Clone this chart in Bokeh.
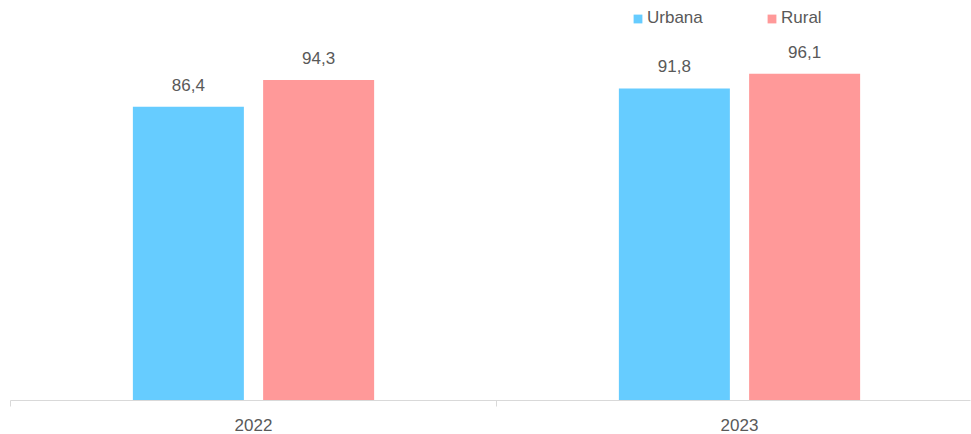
from bokeh.plotting import figure
from bokeh.models import ColumnDataSource, Range1d, FixedTicker, Legend, LegendItem
from bokeh.transform import dodge
from bokeh.core.properties import value
from bokeh.embed import file_html
from bokeh.resources import INLINE

years = ["2022", "2023"]
urbana = [86.4, 91.8]
rural = [94.3, 96.1]
urbana_labels = ["86,4", "91,8"]
rural_labels = ["94,3", "96,1"]

FONT = "Liberation Sans"
TXT = "#595959"
C_URB = "#66CCFF"
C_RUR = "#FF9999"

xpos = [i + 0.5 for i in range(len(years))]
src = ColumnDataSource(dict(x=xpos, urbana=urbana, rural=rural,
                            ul=urbana_labels, rl=rural_labels))

p = figure(width=971, height=434, output_backend="svg", toolbar_location=None,
           x_range=Range1d(0, 960 / 486), y_range=Range1d(0, 400 / 3.40),
           min_border_left=10, min_border_right=1, min_border_top=0, min_border_bottom=34)
p.outline_line_color = None
p.xgrid.visible = False
p.ygrid.visible = False
p.yaxis.visible = False
p.background_fill_color = "white"

off = 0.134
w = 0.2284
r1 = p.vbar(x=dodge("x", -off), top="urbana", width=w, source=src, color=C_URB, line_color=None)
r2 = p.vbar(x=dodge("x", off), top="rural", width=w, source=src, color=C_RUR, line_color=None)

p.text(x=dodge("x", -off), y="urbana", text="ul", source=src, text_align="center",
       text_baseline="bottom", y_offset=-16, text_font=value(FONT), text_font_size="17px",
       text_color=TXT)
p.text(x=dodge("x", off), y="rural", text="rl", source=src, text_align="center",
       text_baseline="bottom", y_offset=-16, text_font=value(FONT), text_font_size="17px",
       text_color=TXT)

ax = p.xaxis[0]
ax.ticker = FixedTicker(ticks=xpos, minor_ticks=list(range(len(years) + 1)))
ax.major_label_overrides = {x: y for x, y in zip(xpos, years)}
ax.major_tick_line_color = None
ax.major_tick_out = 0
ax.major_tick_in = 0
ax.minor_tick_out = 6
ax.minor_tick_in = 0
ax.minor_tick_line_color = "#d9d9d9"
ax.axis_line_color = "#d9d9d9"
ax.major_label_standoff = 12
ax.major_label_text_font = FONT
ax.major_label_text_font_size = "17px"
ax.major_label_text_color = TXT

def mk_legend(label, rend, loc):
    lg = Legend(items=[LegendItem(label=label, renderers=[rend])], location=loc,
                orientation="horizontal", padding=0, margin=0, border_line_color=None,
                background_fill_alpha=0, glyph_width=11, glyph_height=11,
                label_standoff=4, label_text_font=FONT, label_text_font_size="17px",
                label_text_color=TXT, label_height=20, spacing=0)
    p.add_layout(lg)

mk_legend("Urbana", r1, (622, 372))
mk_legend("Rural", r2, (756, 372))

open("out.html", "w").write(file_html(p, INLINE))
